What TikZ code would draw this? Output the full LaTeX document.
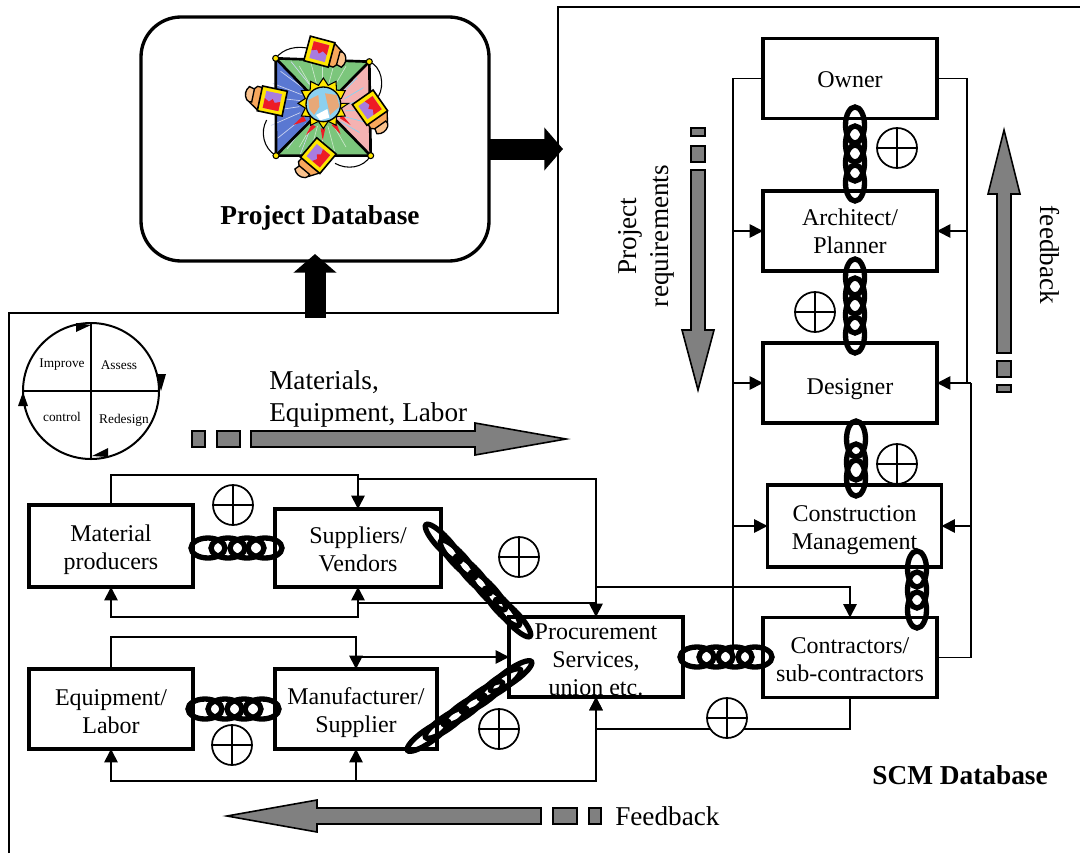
\documentclass[tikz,border=0pt]{standalone}
\usepackage{fontspec}
\setmainfont{Liberation Serif}
\usetikzlibrary{arrows.meta,calc}
\definecolor{flowgray}{HTML}{808080}
\definecolor{padgreen}{HTML}{7CC67C}
\definecolor{padblue}{HTML}{5A78D2}
\definecolor{padpink}{HTML}{F4B2B2}
\definecolor{bodyorange}{HTML}{F8A85C}
\definecolor{frameyellow}{HTML}{FFE600}
\definecolor{screenpurple}{HTML}{A87CE0}
\definecolor{screenred}{HTML}{EE1C25}
\definecolor{globeblue}{HTML}{8CD0F0}
\definecolor{landtan}{HTML}{E8A878}
\tikzset{
  stagebox/.style={draw,fill=white,line width=2.5pt,outer sep=0pt,inner sep=0pt,align=center,
    font=\fontsize{18}{21}\selectfont,minimum width=130.5pt,minimum height=60pt},
  dbbox/.style={draw,line width=2.5pt,rounded corners=30pt,outer sep=0pt,minimum width=261pt,minimum height=183pt},
  biglabel/.style={inner sep=0pt,font=\fontsize{20.4}{24}\selectfont,align=#1},
  biglabel/.default=center,
  boldlabel/.style={inner sep=0pt,font=\fontsize{20.5}{24}\selectfont\bfseries},
  cyclelabel/.style={inner sep=0pt,anchor=base,font=\fontsize{10}{12}\selectfont},
  link/.style={line width=1.3pt},
  flow/.style={line width=1.3pt,-{Triangle[length=10pt,width=10pt]}},
  bigflow/.style={line width=15.75pt,-{Triangle[length=14pt,width=31.5pt]}},
  grayflow/.style={draw,fill=flowgray,line width=1.2pt},
  chainring/.style={line width=4pt},
  plusring/.style={draw,fill=white,line width=1.3pt},
}
% first line of a box, made taller to push the text down
\def\dropline#1{\rule{0pt}{#1pt}}
% one desktop computer of the clip art, body on its left side
\def\deskpc(#1,#2)(#3){
  \begin{scope}[shift={(#1,#2)},rotate=#3]
    \draw[fill=bodyorange,line width=1pt] (-10,-32) -- (-52,-34) -- (-72,-12) -- (-66,18) -- (-38,36) -- (0,36) -- cycle;
    \draw[fill=bodyorange!70,line width=1pt] (-76,-28) to[bend right=40] (-76,12) to[bend right=30] (-60,16) -- (-60,-24) -- cycle;
    \draw[fill=frameyellow,line width=1.2pt] (-38,-38) -- (38,-38) -- (38,38) -- (-38,38) -- cycle;
    \fill[screenpurple] (-24,-26) rectangle (24,26);
    \fill[screenred] (-24,26) -- (-24,-4) -- (-10,4) -- (0,-6) -- (8,4) -- (24,-2) -- (24,26) -- cycle;
  \end{scope}
}
\begin{document}
\begin{tikzpicture}[x=0.75pt,y=-0.75pt]
    \useasboundingbox (0,0) rectangle (1080,853);

    % outer frame
    \coordinate (frameA) at (9,853);
    \coordinate (frameB) at (558,313);
    \coordinate (frameC) at (1080,7);
    \draw[line width=1.5pt] (frameA) |- (frameB) |- (frameC);

    % project database
    \node[dbbox] (projdb) at (315,139) {};
    \node[boldlabel] (projlabel) at (320,218) {Project Database};
    \coordinate (dbout) at (563,149);
    \coordinate (dbin) at (315,254);
    \coordinate (dbfoot) at (315,318);
    \draw[bigflow] (projdb.east |- dbout) -- (dbout);
    \draw[bigflow] (dbfoot) -- (dbin);

    % clip art
    \begin{scope}[shift={(240,35)},scale=0.3333]
      \coordinate (padA) at (107,70);
      \coordinate (padB) at (388,80);
      \coordinate (padC) at (392,362);
      \coordinate (padD) at (108,362);
      \coordinate (padM) at (248,215);
      \draw[line width=0.8pt] (padA) .. controls (130,40) and (170,30) .. (215,42);
      \draw[line width=0.8pt] (padB) .. controls (425,95) and (435,150) .. (415,185);
      \draw[line width=0.8pt] (padC) .. controls (370,400) and (320,405) .. (285,385);
      \draw[line width=0.8pt] (padD) .. controls (70,340) and (60,290) .. (80,255);
      \fill[padgreen] (padA) -- (padB) -- (padM) -- cycle;
      \fill[padpink] (padB) -- (padC) -- (padM) -- cycle;
      \fill[padgreen] (padC) -- (padD) -- (padM) -- cycle;
      \fill[padblue] (padD) -- (padA) -- (padM) -- cycle;
      \foreach \ang in {115,130,...,245}
        \draw[white!70!padblue,line width=0.5pt] (padM)+(\ang+5:70) -- +(\ang:165);
      \foreach \ang in {-40,-25,...,40}
        \draw[white!50!cyan,line width=0.5pt] (padM)+(\ang+5:70) -- +(\ang:135);
      \foreach \ang in {60,75,...,120}
        \draw[white!60!padgreen,line width=0.5pt] (padM)+(\ang:-60) -- +(\ang:-140);
      \foreach \ang in {240,255,...,300}
        \draw[white!60!padgreen,line width=0.5pt] (padM)+(\ang:-60) -- +(\ang:-140);
      \draw[line width=2pt] (padA) -- (padB) -- (padC) -- (padD) -- cycle;
      \draw[line width=2pt] (padA) -- (padC);
      \draw[line width=2pt] (padB) -- (padD);
      \foreach \pad in {padA,padB,padC,padD}
        \draw[fill=frameyellow,line width=0.8pt] (\pad) circle (9);
      % red sparks
      \fill[screenred] (190,242) -- (160,270) -- (198,258) -- cycle;
      \fill[screenred] (215,268) -- (198,300) -- (228,275) -- cycle;
      \fill[screenred] (242,280) -- (248,316) -- (256,280) -- cycle;
      \fill[screenred] (275,270) -- (302,298) -- (288,262) -- cycle;
      \fill[screenred] (300,250) -- (332,270) -- (305,238) -- cycle;
      % sun and globe
      \draw[fill=frameyellow,line width=0.8pt] (250,205)
        \foreach \ang in {0,30,...,330} { -- ++(0,0) -- ($(250,205)+(\ang:76)$) -- ($(250,205)+(\ang+15:56)$) } -- cycle;
      \draw[fill=globeblue,line width=1pt] (250,208) circle (52);
      \fill[landtan] (205,195) -- (235,180) -- (238,215) -- (222,240) -- (208,222) -- cycle;
      \fill[landtan] (255,175) -- (290,180) -- (298,215) -- (270,240) -- (262,205) -- cycle;
      \fill[white] (228,240) -- (262,222) -- (268,248) -- (240,256) -- cycle;
      % four computers
      \deskpc(238,50)(165)
      \deskpc(97,198)(-12)
      \deskpc(390,218)(125)
      \deskpc(235,362)(50)
    \end{scope}

    % cycle of improvement
    \coordinate (cycleC) at (91,391);
    \draw[line width=1.5pt] (cycleC) circle (68);
    \draw[line width=1.5pt] ($(cycleC)+(-68,0)$) -- ($(cycleC)+(68,0)$);
    \draw[line width=1.5pt] ($(cycleC)+(0,-68)$) -- ($(cycleC)+(0,68)$);
    \fill (76,323) -- (91,325) -- (76,332) -- cycle;
    \fill (156,374) -- (166,374) -- (161,391) -- cycle;
    \fill (108,448) -- (92,456) -- (108,457) -- cycle;
    \fill (23,392) -- (18,406) -- (28,406) -- cycle;
    \node[cyclelabel] (improve) at (62,367) {Improve};
    \node[cyclelabel] (assess) at (119,369) {Assess};
    \node[cyclelabel] (control) at (62,421) {control};
    \node[cyclelabel] (redesign) at (124,423) {Redesign};

    % stakeholders
    \node[stagebox] (owner) at (850,78.5) {\dropline{13.8}Owner};
    \node[stagebox] (architect) at (850,231) {\dropline{13.5}Architect/\\Planner};
    \node[stagebox] (designer) at (850,383) {\dropline{21.3}Designer};
    \node[stagebox,minimum height=61.5pt] (cm) at (854.5,526) {\dropline{18.3}Construction\\Management};
    \node[stagebox] (contractors) at (850,657.5) {\dropline{15.3}Contractors/\\sub-contractors};
    \node[stagebox] (procure) at (596,657) {\dropline{15.3}Procurement\\Services,\\union etc.};
    \node[stagebox,minimum width=123pt,minimum height=61.5pt] (material) at (111,546) {\dropline{18.3}Material\\producers};
    \node[stagebox,minimum width=124.5pt,minimum height=58.5pt] (suppliers) at (358,548) {\dropline{13.8}Suppliers/\\Vendors};
    \node[stagebox,minimum width=123pt] (equipment) at (111,709) {\dropline{15.3}Equipment/\\Labor};
    \node[stagebox,minimum width=121.5pt] (manufacturer) at (356,709) {\dropline{18.3}Manufacturer/\\Supplier};

    % connectors, upper chain
    \coordinate (busL) at (733,660);
    \coordinate (busR) at (967,383);
    \coordinate (busS) at (971,383);
    \draw[link] (owner.west) -| (busL);
    \draw[flow] (busL |- architect.west) -- (architect.west);
    \draw[flow] (busL |- designer.west) -- (designer.west);
    \draw[flow] (busL |- cm.west) -- (cm.west);
    \draw[link] (owner.east) -| (busR);
    \draw[flow] (busR |- architect.east) -- (architect.east);
    \draw[link] (contractors.east) -| (busS);
    \draw[flow] (busS) -- (designer.east);
    \draw[flow] (busS |- cm.east) -- (cm.east);

    % connectors, lower chain
    \coordinate (matTop) at (234,475);
    \coordinate (matLow) at (234,617);
    \coordinate (supTop) at (358,479);
    \coordinate (supOut) at (358,603);
    \coordinate (procTap) at (596,587);
    \coordinate (eqTop) at (234,637);
    \coordinate (eqLow) at (356,781);
    \coordinate (conLow) at (720,729);
    \draw[flow] (material.north) |- (matTop) -| (suppliers.north);
    \draw[flow] (matLow) -| (material.south);
    \draw[flow] (matLow) -| (suppliers.south);
    \draw[flow] (supTop) -| (procure.north);
    \draw[link] (supOut) -- (supOut -| procure.north);
    \draw[flow] (procTap) -| (contractors.north);
    \draw[flow] (equipment.north) |- (eqTop) -| (manufacturer.north);
    \draw[flow] (manufacturer.north |- procure.west) -- (procure.west);
    \draw[flow] (eqLow) -| (equipment.south);
    \draw[flow] (eqLow) -| (manufacturer.south);
    \draw[flow] (eqLow) -| (procure.south);
    \draw[flow] (contractors.south) |- (conLow) -| (procure.south);

    % circled plus signs
    \foreach \px/\py in {897/148,815/312,897/464,233/505,519/557,499/729,727/718,232/745}
      \draw[plusring] (\px,\py) circle (20) (\px-20,\py) -- (\px+20,\py) (\px,\py-20) -- (\px,\py+20);

    % chains
    \foreach \cy in {125,144,163,183}
      \draw[chainring] (855,\cy) ellipse (9.5 and 18);
    \foreach \cy in {277,296,315,335}
      \draw[chainring] (855,\cy) ellipse (9.5 and 18);
    \foreach \cy in {439,462,478}
      \draw[chainring] (856,\cy) ellipse (9.5 and 18);
    \foreach \cy in {569,590,610}
      \draw[chainring] (917,\cy) ellipse (9.5 and 18);
    \foreach \cx in {208,228,247,265}
      \draw[chainring] (\cx,548) ellipse (17 and 10);
    \foreach \cx in {205,225,244,262}
      \draw[chainring] (\cx,709) ellipse (17 and 10);
    \foreach \cx in {697,716,735,755}
      \draw[chainring] (\cx,657) ellipse (17 and 10);
    \foreach \cx/\cy in {443/543,458/559,473/575,488/591,502/607,513/618}
      \draw[chainring,rotate around={-47:(\cx,\cy)}] (\cx,\cy) ellipse (25 and 6.5);
    \foreach \cx/\cy in {428/736,446/723,464/710,482/697,500/684,511/676}
      \draw[chainring,rotate around={35:(\cx,\cy)}] (\cx,\cy) ellipse (25 and 6.5);

    % gray flow arrows
    \draw[grayflow] (192,431) rectangle (205,447);
    \draw[grayflow] (217,431) rectangle (240,447);
    \draw[grayflow] (251,431) -- (475,431) -- (475,423) -- (566,439) -- (475,455) -- (475,447) -- (251,447) -- cycle;
    \draw[grayflow] (589,808) rectangle (601,824);
    \draw[grayflow] (553,808) rectangle (577,824);
    \draw[grayflow] (541,808) -- (317,808) -- (317,800) -- (227,816) -- (317,832) -- (317,824) -- (541,824) -- cycle;
    \draw[grayflow] (691,128) rectangle (705,136);
    \draw[grayflow] (691,146) rectangle (705,162);
    \draw[grayflow] (691,170) -- (691,330) -- (682,330) -- (698,390) -- (714,330) -- (705,330) -- (705,170) -- cycle;
    \draw[grayflow] (997,385) rectangle (1011,392);
    \draw[grayflow] (997,361) rectangle (1011,377);
    \draw[grayflow] (997,353) -- (997,194) -- (988,194) -- (1004,130) -- (1020,194) -- (1011,194) -- (1011,353) -- cycle;

    % labels
    \node[biglabel=left,anchor=north west] (materials) at (269,370) {Materials,\\Equipment, Labor};
    \node[biglabel,anchor=west] (feedbackB) at (615,816) {Feedback};
    \node[biglabel,rotate=90] (requirements) at (646,236) {Project\\requirements};
    \node[biglabel,rotate=-90] (feedbackA) at (1050,255) {feedback};
    \node[boldlabel] (scmdb) at (960,775) {SCM Database};
\end{tikzpicture}
\end{document}
